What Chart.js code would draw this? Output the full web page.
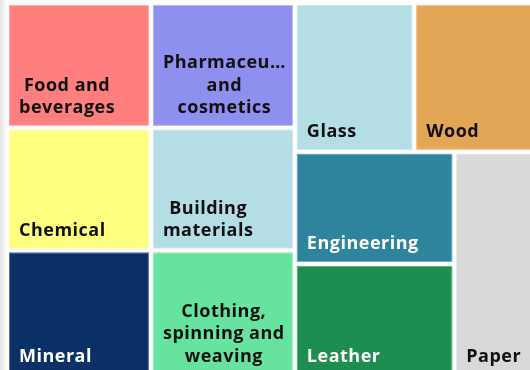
<!DOCTYPE html>
<html>
<head>
<meta charset="utf-8">
<script src="https://cdn.jsdelivr.net/npm/chart.js@4.4.0/dist/chart.umd.min.js"></script>
<style>
  html, body { margin: 0; padding: 0; }
  body { background: linear-gradient(to right, #e4e4e4 0px, #f2f2f2 4px, #ffffff 7px); }
  canvas { display: block; }
</style>
</head>
<body>
<canvas id="chart" width="530" height="370"></canvas>
<script>
// industries, in the order the treemap lays them out
var industries = ['Food and beverages', 'Chemical', 'Mineral', 'Pharmaceuticals and cosmetics',
                  'Building materials', 'Clothing, spinning and weaving', 'Glass', 'Wood',
                  'Engineering', 'Leather', 'Paper'];
var shares = [18.0, 17.7, 18.1, 18.0, 17.7, 18.1, 17.8, 17.8, 17.9, 17.9, 17.8];
var labelLines = [['Food and', 'beverages'], ['Chemical'], ['Mineral'], ['Pharmaceu\u2026', 'and', 'cosmetics'],
                  ['Building', 'materials'], ['Clothing,', 'spinning and', 'weaving'], ['Glass'], ['Wood'],
                  ['Engineering'], ['Leather'], ['Paper']];
var colors = ['#ff7f7f', '#ffff80', '#0b3068', '#8f8ff0', '#b4dde6', '#67e3a0',
              '#b4dde6', '#e3a656', '#2e849c', '#1d8e4f', '#d9d9d9'];
var textColors = ['#111', '#111', '#fff', '#111', '#111', '#111', '#111', '#111', '#fff', '#fff', '#111'];

// the map is a bit larger than the visible area, so the right and bottom cells get cut off
var mapWidth = 526.5, mapHeight = 373;
var gap = 2;

function sum(a) { return a.reduce(function(s, v) { return s + v; }, 0); }

function worst(row, side) {
    var s = sum(row), mx = Math.max.apply(null, row), mn = Math.min.apply(null, row);
    return Math.max(side * side * mx / (s * s), (s * s) / (side * side * mn));
}

// plain squarified layout, in data units
function squarify(values, x, y, w, h) {
    var k = w * h / sum(values);
    var areas = values.map(function(v) { return v * k; });
    var rects = [];
    var i = 0;
    while (i < areas.length) {
        var vertical = w >= h;
        var side = vertical ? h : w;
        var row = [areas[i]], j = i + 1, best = worst(row, side);
        while (j < areas.length) {
            var next = row.concat(areas[j]);
            var wv = worst(next, side);
            if (wv > best) break;
            row = next; best = wv; j++;
        }
        var thick = sum(row) / side, off = 0;
        row.forEach(function(a) {
            var len = a / thick;
            if (vertical) rects.push({x0: x, y0: y + off, x1: x + thick, y1: y + off + len});
            else rects.push({x0: x + off, y0: y, x1: x + off + len, y1: y + thick});
            off += len;
        });
        if (vertical) { x += thick; w -= thick; } else { y += thick; h -= thick; }
        i = j;
    }
    return rects;
}

var treemapPlugin = {
    id: 'treemap',
    afterDatasetsDraw: function(chart) {
        var ctx = chart.ctx, xs = chart.scales.x, ys = chart.scales.y;
        var rects = squarify(shares, 0, 0, mapWidth, mapHeight);
        ctx.save();
        rects.forEach(function(r, i) {
            var left = xs.getPixelForValue(r.x0 + gap), right = xs.getPixelForValue(r.x1 - gap);
            var top = ys.getPixelForValue(r.y0 + gap), bottom = ys.getPixelForValue(r.y1 - gap);
            ctx.fillStyle = colors[i];
            ctx.fillRect(left, top, right - left, bottom - top);
            ctx.strokeStyle = 'rgba(255, 255, 255, 0.35)';
            ctx.lineWidth = 1;
            ctx.strokeRect(left + 0.5, top + 0.5, right - left - 1, bottom - top - 1);

            // label block sits at the bottom left, its lines centred on each other
            var lines = labelLines[i];
            ctx.font = 'bold 18px "Open Sans"';
            ctx.letterSpacing = '0.5px';
            ctx.fillStyle = textColors[i];
            ctx.textBaseline = 'alphabetic';
            ctx.textAlign = 'center';
            var blockWidth = Math.max.apply(null, lines.map(function(l) { return ctx.measureText(l).width; }));
            var cx = left + 10 + blockWidth / 2;
            lines.forEach(function(line, n) {
                var y = bottom - 12.5 - (lines.length - 1 - n) * 22.5;
                ctx.fillText(line, cx, y);
            });
        });
        ctx.restore();
    }
};

new Chart(document.getElementById('chart'), {
    type: 'scatter',
    data: {labels: industries, datasets: [{data: []}]},
    options: {
        responsive: false,
        animation: false,
        layout: {padding: {left: 7, top: 3, right: 0, bottom: 0}},
        scales: {
            x: {type: 'linear', min: 0, max: 523, display: false},
            y: {type: 'linear', min: 0, max: 367, reverse: true, display: false}
        },
        plugins: {legend: {display: false}, tooltip: {enabled: false}}
    },
    plugins: [treemapPlugin]
});
</script>
</body>
</html>
